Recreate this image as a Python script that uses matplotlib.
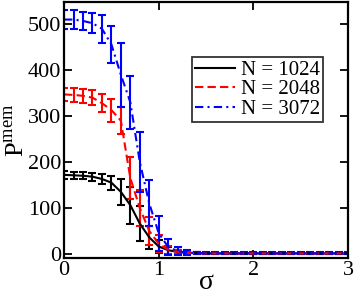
import numpy as np
import matplotlib
matplotlib.use("Agg")
import matplotlib.pyplot as plt
from matplotlib.lines import Line2D

plt.rcParams['font.family'] = ['Liberation Serif', 'DejaVu Serif']
plt.rcParams['mathtext.fontset'] = 'custom'
plt.rcParams['mathtext.rm'] = 'Liberation Serif'

sigma = [round(0.1 * i, 1) for i in range(31)]

p1024 = [172, 171, 170, 168, 163, 155, 135, 106, 66, 36, 16, 8, 4, 2, 1.5, 1, 1, 1, 1, 1,
         1, 1, 1, 1, 1, 1, 1, 1, 1, 1, 1]
e1024 = [8, 8, 8, 9, 10, 15, 28, 40, 38, 25, 15, 8, 4, 2, 1.5, 1, 1, 1, 1, 1,
         1, 1, 1, 1, 1, 1, 1, 1, 1, 1, 1]

p2048 = [347, 346, 344, 340, 328, 313, 290, 165, 100, 50, 22, 9, 4, 2, 1.5, 1, 1, 1, 1, 1,
         1, 1, 1, 1, 1, 1, 1, 1, 1, 1, 1]
e2048 = [15, 15, 15, 16, 20, 25, 30, 45, 40, 30, 18, 9, 5, 3, 2, 1.5, 1.5, 1.5, 1.5, 1.5,
         1.5, 1.5, 1.5, 1.5, 1.5, 1.5, 1.5, 1.5, 1.5, 1.5, 1.5]

p3072 = [510, 510, 507, 502, 490, 456, 390, 330, 200, 110, 45, 15, 6, 3, 2, 1, 1, 1, 1, 1,
         1, 1, 1, 1, 1, 1, 1, 1, 1, 1, 1]
e3072 = [20, 20, 20, 22, 30, 40, 70, 58, 65, 50, 38, 18, 8, 5, 3, 2, 2, 2, 2, 2,
         2, 2, 2, 2, 2, 2, 2, 2, 2, 2, 2]

labels = ["N = 1024", "N = 2048", "N = 3072"]

fig = plt.figure(figsize=(3.54, 3.0), dpi=100)
ax = fig.add_axes([0.181, 0.14, 0.802, 0.853])

ax.errorbar(sigma, p1024, yerr=e1024, color='black', ls='-', lw=1.5,
            elinewidth=1.5, capsize=3, capthick=1.5, label=labels[0])
ax.errorbar(sigma, p2048, yerr=e2048, color='red', ls=(0, (4, 2)), lw=1.5,
            elinewidth=1.5, capsize=3, capthick=1.5, label=labels[1])
ax.errorbar(sigma, p3072, yerr=e3072, color='blue', ls=(0, (4, 2, 1, 2)), lw=1.5,
            elinewidth=1.5, capsize=3, capthick=1.5, label=labels[2])

ax.set_xlim(0, 3)
ax.set_ylim(-9, 548)
ax.set_xticks([0, 1, 2, 3])
ax.set_yticks([0, 100, 200, 300, 400, 500])
ax.tick_params(direction='in', length=5.5, width=1.3, top=True, right=True,
               labelsize=16, pad=2)
for s in ax.spines.values():
    s.set_linewidth(1.6)

ax.set_xlabel('σ', fontsize=20, labelpad=-7)
ax.set_ylabel(r'$\mathrm{P}^{\mathrm{mem}}$', fontsize=19, labelpad=-1)

handles = [Line2D([], [], color='black', ls='-', lw=1.5),
           Line2D([], [], color='red', ls=(0, (4, 2)), lw=1.5),
           Line2D([], [], color='blue', ls=(0, (4, 2, 1, 2)), lw=1.5)]
leg = ax.legend(handles, labels, loc='upper left', bbox_to_anchor=(0.45, 0.785),
                fontsize=15, frameon=True, fancybox=False, edgecolor='black',
                borderpad=0.15, labelspacing=0.0, handlelength=1.9,
                handletextpad=0.3, borderaxespad=0)
leg.get_frame().set_linewidth(1.3)

fig.savefig('out.png', dpi=100)
